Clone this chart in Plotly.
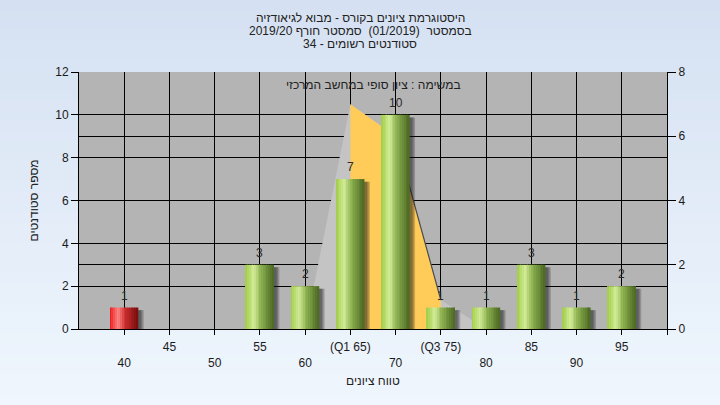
import plotly.graph_objects as go

# ---------------- data ----------------
grades = [40, 45, 50, 55, 60, 65, 70, 75, 80, 85, 90, 95]
counts = [1, 0, 0, 3, 2, 7, 10, 1, 1, 3, 1, 2]
fail_below = 55            # grades below this are drawn red
tick_vals = [40, 45, 50, 55, 60, 65, 70, 75, 80, 85, 90, 95, 100]
tick_labels = ["40", "45", "50", "55", "60", "(Q1 65)", "70", "(Q3 75)",
               "80", "85", "90", "95", ""]
q1, q3 = 65, 75
curve_x = [60, 65, 70, 75, 80]
curve_y = [0, 7, 6, 0.9, 0]      # right axis scale

title_lines = ["היסטוגרמת ציונים בקורס - מבוא לגיאודזיה",
               "בסמסטר  (01/2019)  סמסטר חורף 2019/20",
               "סטודנטים רשומים - 34"]
note_text = "במשימה : ציון סופי במחשב המרכזי"
y_title = "מספר סטודנטים"
x_title = "טווח ציונים"

# ---------------- layout constants ----------------
W, H = 720, 405
L, R, T, B = 79, 53, 72, 76
PH = H - T - B
FONT = "Liberation Sans, Arial, sans-serif"


def py(ypix):
    return 1 + (T - ypix) / PH


def lerp(c1, c2, t):
    return tuple(round(a + (b - a) * t) for a, b in zip(c1, c2))


def grad(stops, t):
    for (t0, c0), (t1, c1) in zip(stops, stops[1:]):
        if t0 <= t <= t1:
            return lerp(c0, c1, (t - t0) / (t1 - t0))
    return stops[-1][1]


green_stops = [(0, (160, 204, 70)), (0.3, (210, 236, 152)), (0.55, (142, 178, 80)), (1, (74, 104, 34))]
red_stops = [(0, (232, 20, 20)), (0.3, (255, 135, 135)), (0.55, (205, 45, 45)), (1, (118, 14, 14))]

fig = go.Figure()

# ---- distribution area (main y axis, right side) ----
fig.add_trace(go.Scatter(x=curve_x, y=curve_y, mode="lines", fill="tozeroy",
                         fillcolor="#c4c4c4", line=dict(color="#c4c4c4", width=0),
                         hoverinfo="skip", showlegend=False, yaxis="y"))
iqr = [(x, y) for x, y in zip(curve_x, curve_y) if q1 <= x <= q3]
fig.add_trace(go.Scatter(x=[p[0] for p in iqr], y=[p[1] for p in iqr], mode="lines",
                         fill="tozeroy", fillcolor="#ffcc5a",
                         line=dict(color="#ffcc5a", width=0),
                         hoverinfo="skip", showlegend=False, yaxis="y"))
fig.add_trace(go.Scatter(x=[p[0] for p in iqr[-2:]], y=[p[1] for p in iqr[-2:]], mode="lines",
                         line=dict(color="#4a4a4a", width=1.2),
                         hoverinfo="skip", showlegend=False, yaxis="y"))

# ---- bars (y2, left side) ----
BW = 3.1
nz = [(g, c) for g, c in zip(grades, counts) if c > 0]
# shadow
for sh, op in [(0.3, 0.22), (0.45, 0.22), (0.6, 0.22)]:
    fig.add_trace(go.Bar(x=[g for g, c in nz], y=[max(c - 0.12, 0) for g, c in nz],
                         width=BW, offset=-BW / 2 + sh,
                         marker=dict(color="rgba(20,20,20,1)", line=dict(width=0)),
                         opacity=op, hoverinfo="skip", showlegend=False, yaxis="y2"))
# cylinder gradient slices
N = 16
sw = BW / N
for i in range(N):
    t = (i + 0.5) / N
    cols = []
    for g in grades:
        c = grad(red_stops if g < fail_below else green_stops, t)
        cols.append("rgb(%d,%d,%d)" % c)
    fig.add_trace(go.Bar(x=grades, y=counts, width=sw * 1.05, offset=-BW / 2 + i * sw,
                         marker=dict(color=cols, line=dict(width=0)),
                         hoverinfo="skip", showlegend=False, yaxis="y2"))

# ---------------- background ----------------
shapes = []
NB = 40
top_c, bot_c = (213, 225, 242), (239, 246, 253)
y_top, y_bot = py(0), py(H)
for i in range(NB):
    c = lerp(top_c, bot_c, i / (NB - 1))
    y0 = y_top + (y_bot - y_top) * i / NB
    y1 = y_top + (y_bot - y_top) * (i + 1) / NB
    shapes.append(dict(type="rect", xref="paper", yref="paper", x0=-0.2, x1=1.2,
                       y0=y1, y1=y0 + 0.002, fillcolor="rgb(%d,%d,%d)" % c,
                       line=dict(width=0), layer="below"))
shapes.append(dict(type="rect", xref="paper", yref="paper", x0=0, x1=1, y0=0, y1=1,
                   fillcolor="#b4b4b4", line=dict(width=0), layer="below"))

annotations = []
for txt, yp in zip(title_lines, [18, 31, 44]):
    annotations.append(dict(text=txt, xref="paper", yref="paper",
                            x=(W / 2 - L) / (W - L - R), y=py(yp),
                            xanchor="center", yanchor="middle", showarrow=False,
                            font=dict(family=FONT, size=12, color="#222")))
annotations.append(dict(text=note_text, xref="paper", yref="paper", x=0.5, y=py(85),
                        xanchor="center", yanchor="middle", showarrow=False,
                        font=dict(family=FONT, size=12, color="#222")))
annotations.append(dict(text=y_title, xref="paper", yref="paper",
                        x=(33 - L) / (W - L - R), y=0.5, textangle=-90,
                        xanchor="center", yanchor="middle", showarrow=False,
                        font=dict(family=FONT, size=12, color="#222")))
annotations.append(dict(text=x_title, xref="paper", yref="paper", x=0.5, y=py(381),
                        xanchor="center", yanchor="middle", showarrow=False,
                        font=dict(family=FONT, size=12, color="#222")))
# value labels above bars
for g, c in nz:
    annotations.append(dict(text=str(c), x=g, y=c, xref="x", yref="y2",
                            xanchor="center", yanchor="bottom", yshift=3,
                            showarrow=False,
                            font=dict(family=FONT, size=12, color="#2a2a2a")))

tick_text = [("<br>" + t) if i % 2 == 0 else t for i, t in enumerate(tick_labels)]

axis_font = dict(family=FONT, size=12, color="#1a1a1a")
fig.update_layout(
    width=W, height=H,
    margin=dict(l=L, r=R, t=T, b=B, pad=0),
    paper_bgcolor="rgb(226,236,248)",
    plot_bgcolor="rgba(0,0,0,0)",
    barmode="overlay",
    showlegend=False,
    shapes=shapes,
    annotations=annotations,
    xaxis=dict(range=[35, 100], tickmode="array", tickvals=tick_vals, ticktext=tick_text,
               ticks="outside", ticklen=5, tickcolor="black", showgrid=True,
               gridcolor="black", gridwidth=1, showline=True, linecolor="black",
               linewidth=1, zeroline=False, tickfont=axis_font, fixedrange=True,
               ticklabelstandoff=2),
    yaxis=dict(side="right", range=[0, 8], dtick=2, ticks="outside", ticklen=8,
               tickcolor="black", showgrid=True, gridcolor="black", gridwidth=1,
               showline=True, linecolor="black", zeroline=False, tickfont=axis_font),
    yaxis2=dict(side="left", overlaying="y", range=[0, 12], dtick=2, ticks="outside",
                ticklen=7, tickcolor="black", showgrid=True, gridcolor="black",
                gridwidth=1, showline=True, linecolor="black", zeroline=False,
                tickfont=axis_font),
)

fig.write_html("out.html", config={"displayModeBar": False},
               post_script="document.body.style.margin='0';")
